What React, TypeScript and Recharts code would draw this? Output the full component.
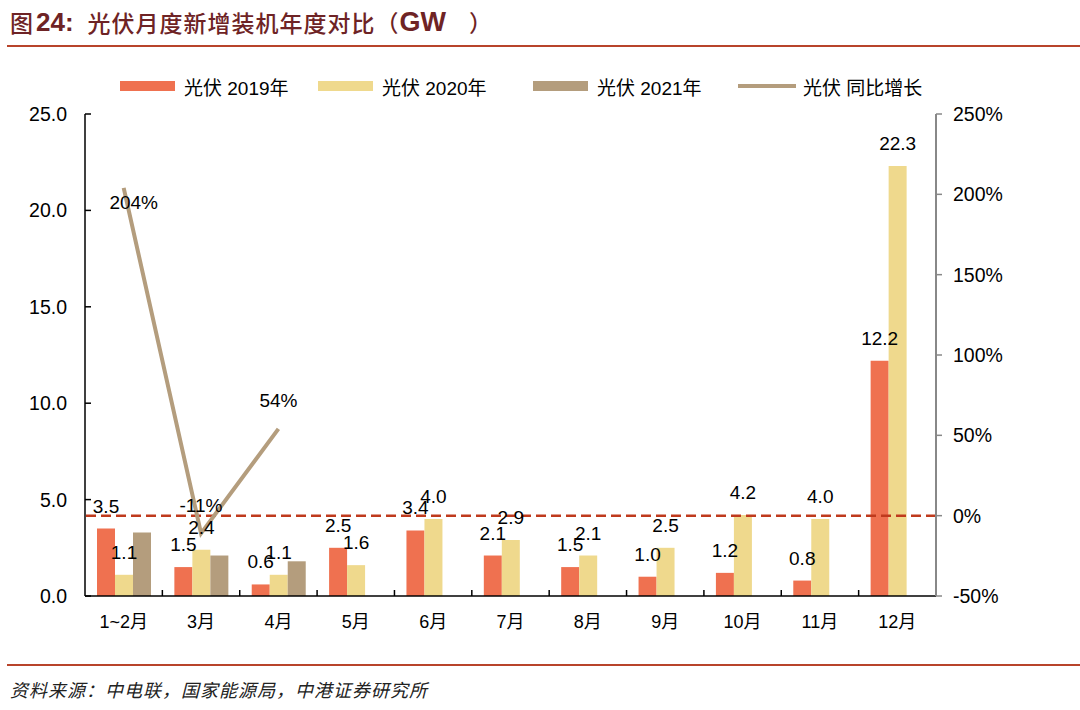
import { Bar, ComposedChart, LabelList, Line, ReferenceLine, XAxis, YAxis } from 'recharts'

const months = ['1~2月', '3月', '4月', '5月', '6月', '7月', '8月', '9月', '10月', '11月', '12月']
const pv2019 = [3.5, 1.5, 0.6, 2.5, 3.4, 2.1, 1.5, 1.0, 1.2, 0.8, 12.2]
const pv2020 = [1.1, 2.4, 1.1, 1.6, 4.0, 2.9, 2.1, 2.5, 4.2, 4.0, 22.3]
const pv2021 = [3.3, 2.1, 1.8, null, null, null, null, null, null, null, null]
const growth = [204, -11, 54, null, null, null, null, null, null, null, null]

const leftTicks = [0, 5, 10, 15, 20, 25]
const rightTicks = [-50, 0, 50, 100, 150, 200, 250]

const data = months.map((m, i) => ({
  month: m,
  y2019: pv2019[i],
  y2020: pv2020[i],
  y2021: pv2021[i],
  growth: growth[i],
}))

const C2019 = '#ef7150'
const C2020 = '#efd98d'
const C2021 = '#b49d7d'
const FONT = '"Liberation Sans", Arial, "Noto Sans CJK SC", sans-serif'
const CJK = '"Noto Sans CJK SC", sans-serif'
const TITLE = '#6e2325'

// plot area edges (used only to draw inward tick marks)
const PLOT_LEFT = 85
const PLOT_RIGHT = 936
const BAND = (PLOT_RIGHT - PLOT_LEFT) / months.length

const LeftTick = (props: any) => {
  const { x, y, payload } = props
  return (
    <g>
      <line x1={PLOT_LEFT} x2={PLOT_LEFT + 6} y1={y} y2={y} stroke="#000" strokeWidth={1.5} />
      <text x={x} y={y} textAnchor="end" dominantBaseline="central" fontSize={19.5} fill="#000" fontFamily={FONT}>
        {payload.value.toFixed(1)}
      </text>
    </g>
  )
}

const RightTick = (props: any) => {
  const { x, y, payload } = props
  return (
    <text x={x} y={y} textAnchor="start" dominantBaseline="central" fontSize={19.5} fill="#000" fontFamily={FONT}>
      {payload.value}%
    </text>
  )
}

const MonthTick = (props: any) => {
  const { x, y, payload, index } = props
  return (
    <g>
      {index > 0 && (
        <line x1={x - BAND / 2} x2={x - BAND / 2} y1={596} y2={590} stroke="#000" strokeWidth={1.5} />
      )}
      <text x={x} y={y + 18} textAnchor="middle" dominantBaseline="central" fontSize={18} fill="#000" fontFamily={FONT}>
        {payload.value}
      </text>
    </g>
  )
}

const GrowthLabel = (props: any) => {
  const { x, y, value, index } = props
  if (value == null) return null
  const below = index === 0
  return (
    <text
      x={below ? x + 10 : x}
      y={below ? y + 15 : y - 28}
      textAnchor="middle"
      dominantBaseline="central"
      fontSize={19}
      fill="#000"
      fontFamily={FONT}
    >
      {value}%
    </text>
  )
}

const legendItems = [
  { label: '光伏 2019年', color: C2019, type: 'rect', left: 120 },
  { label: '光伏 2020年', color: C2020, type: 'rect', left: 318 },
  { label: '光伏 2021年', color: C2021, type: 'rect', left: 533 },
  { label: '光伏 同比增长', color: C2021, type: 'line', left: 738 },
]

export default function App() {
  return (
    <div style={{ position: 'absolute', left: 0, top: 0, width: 1080, height: 710, background: '#fff', fontFamily: FONT }}>
      <div
        style={{
          position: 'absolute',
          left: 10,
          top: 5,
          height: 34,
          display: 'flex',
          alignItems: 'center',
          color: TITLE,
          whiteSpace: 'pre',
        }}
      >
        <span style={{ fontFamily: CJK, fontSize: 23, fontWeight: 500 }}>图</span>
        <span style={{ fontFamily: FONT, fontSize: 26, fontWeight: 'bold', marginLeft: 3 }}>24:</span>
        <span style={{ fontFamily: CJK, fontSize: 23, fontWeight: 500, marginLeft: 14, letterSpacing: 1 }}>
          光伏月度新增装机年度对比
        </span>
        <span style={{ fontFamily: CJK, fontSize: 23, fontWeight: 500 }}>（</span>
        <span style={{ fontFamily: FONT, fontSize: 27, fontWeight: 'bold', marginLeft: 1 }}>GW</span>
        <span style={{ fontFamily: CJK, fontSize: 23, fontWeight: 500, marginLeft: 23 }}>）</span>
      </div>
      <div style={{ position: 'absolute', left: 7, right: 0, top: 45, height: 2, background: '#b8442b' }} />

      {legendItems.map((item) => (
        <div
          key={item.label}
          style={{ position: 'absolute', left: item.left, top: 74, height: 24, display: 'flex', alignItems: 'center' }}
        >
          <div
            style={{
              width: item.type === 'rect' ? 55 : 58,
              height: item.type === 'rect' ? 10 : 4,
              background: item.color,
              marginRight: item.type === 'rect' ? 9 : 7,
            }}
          />
          <span style={{ fontSize: 19, color: '#000', fontFamily: FONT, whiteSpace: 'pre' }}>{item.label}</span>
        </div>
      ))}

      <div style={{ position: 'absolute', left: 0, top: 0 }}>
        <ComposedChart
          width={1080}
          height={710}
          data={data}
          margin={{ top: 114, right: 0, bottom: 0, left: 0 }}
          barCategoryGap={12}
          barGap={0}
        >
          <XAxis
            dataKey="month"
            height={114}
            tickLine={false}
            axisLine={{ stroke: '#000', strokeWidth: 1.5 }}
            tick={<MonthTick />}
            interval={0}
          />
          <YAxis
            yAxisId="left"
            orientation="left"
            width={85}
            domain={[0, 25]}
            ticks={leftTicks}
            tickLine={false}
            tickMargin={12}
            axisLine={{ stroke: '#000', strokeWidth: 1.5 }}
            tick={<LeftTick />}
          />
          <YAxis
            yAxisId="right"
            orientation="right"
            width={144}
            domain={[-50, 250]}
            ticks={rightTicks}
            tickSize={6}
            tickMargin={11}
            tickLine={{ stroke: '#888', strokeWidth: 1.5 }}
            axisLine={{ stroke: '#888', strokeWidth: 2 }}
            tick={<RightTick />}
          />
          <Bar yAxisId="left" dataKey="y2019" fill={C2019} isAnimationActive={false}>
            <LabelList
              dataKey="y2019"
              position="top"
              offset={16}
              formatter={(v: any) => (v == null ? '' : Number(v).toFixed(1))}
              style={{ fontSize: 19, fill: '#000', fontFamily: FONT }}
            />
          </Bar>
          <Bar yAxisId="left" dataKey="y2020" fill={C2020} isAnimationActive={false}>
            <LabelList
              dataKey="y2020"
              position="top"
              offset={16}
              formatter={(v: any) => (v == null ? '' : Number(v).toFixed(1))}
              style={{ fontSize: 19, fill: '#000', fontFamily: FONT }}
            />
          </Bar>
          <Bar yAxisId="left" dataKey="y2021" fill={C2021} isAnimationActive={false} />
          <ReferenceLine yAxisId="right" y={0} stroke="#bf3a1d" strokeWidth={2.5} strokeDasharray="10 5" />
          <Line
            yAxisId="right"
            dataKey="growth"
            stroke={C2021}
            strokeWidth={4}
            dot={false}
            activeDot={false}
            connectNulls={false}
            isAnimationActive={false}
          >
            <LabelList dataKey="growth" content={<GrowthLabel />} />
          </Line>
        </ComposedChart>
      </div>

      <div style={{ position: 'absolute', left: 7, right: 0, top: 664, height: 2, background: '#b8442b' }} />
      <div
        style={{
          position: 'absolute',
          left: 10,
          top: 676,
          fontSize: 18,
          letterSpacing: 1,
          fontStyle: 'italic',
          color: '#222',
          fontFamily: CJK,
          whiteSpace: 'pre',
        }}
      >
        资料来源：中电联，国家能源局，中港证券研究所
      </div>
    </div>
  )
}
